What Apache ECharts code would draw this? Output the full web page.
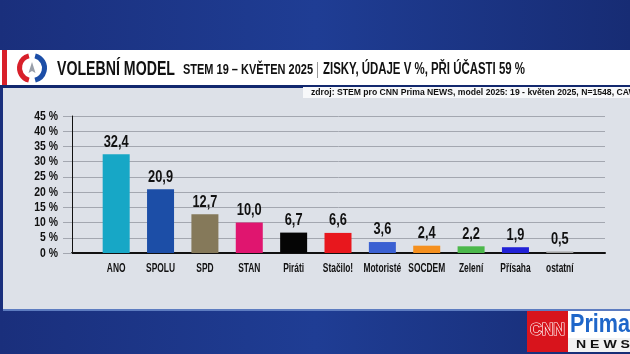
<!DOCTYPE html>
<html style="height: 100%">

<head>
  <meta charset="utf-8">
</head>

<body style="height: 100%; margin: 0; background: #1b3585">
  <div id="container" style="width: 630px; height: 354px"></div>
  <script src="https://cdn.jsdelivr.net/npm/echarts@6/dist/echarts.min.js"></script>
  <script type="text/javascript">
    // data
    var parties = ['ANO', 'SPOLU', 'SPD', 'STAN', 'Piráti', 'Stačilo!', 'Motoristé', 'SOCDEM', 'Zelení', 'Přísaha', 'ostatní'];
    var values = [32.4, 20.9, 12.7, 10.0, 6.7, 6.6, 3.6, 2.4, 2.2, 1.9, 0.5];
    var barColors = ['#17a7c6', '#1c4ea7', '#85795a', '#e0156f', '#050505', '#e8171d', '#3a60d2', '#f5901f', '#4cb84b', '#2121d6', '#a0a0a0'];
    var yTicks = [0, 5, 10, 15, 20, 25, 30, 35, 40, 45];

    var fam = '"Liberation Sans", Arial, sans-serif';

    // measure helper, the TV font is a condensed one so texts get squeezed
    var mctx = document.createElement('canvas').getContext('2d');
    function textW(t, f) { mctx.font = f; return mctx.measureText(t).width; }
    function fitText(t, f, x, y, w, fill, part) {
      var sx = w / textW(part || t, f);
      return { type: 'text', x: x, y: y, scaleX: sx, z: 3, style: { text: t, font: f, fill: fill || '#111', verticalAlign: 'middle' } };
    }
    function fmt(v) { return v.toFixed(1).replace('.', ','); }

    var dom = document.getElementById("container");
    var myChart = echarts.init(dom);

    var cnnText = fitText('CNN', 'bold 16px ' + fam, 530, 331, 35, '#d8141c');
    cnnText.style.stroke = '#ffffff';
    cnnText.style.lineWidth = 1.2;

    var deco = [
      // title strip
      { type: 'rect', shape: { x: 0, y: 50, width: 630, height: 35 }, style: { fill: '#ffffff' }, z: 0 },
      { type: 'rect', shape: { x: 2, y: 50, width: 5, height: 35 }, style: { fill: '#d8202a' }, z: 1 },
      // logo
      { type: 'arc', shape: { cx: 32, cy: 68, r: 12.5, startAngle: Math.PI * 0.58, endAngle: Math.PI * 1.42 }, style: { stroke: '#d8202a', lineWidth: 5, fill: null }, z: 2 },
      { type: 'arc', shape: { cx: 32, cy: 68, r: 12.5, startAngle: -Math.PI * 0.42, endAngle: Math.PI * 0.42 }, style: { stroke: '#1c4ea7', lineWidth: 5, fill: null }, z: 2 },
      { type: 'polygon', shape: { points: [[32, 62], [28.5, 73], [32, 71], [35.5, 73]] }, style: { fill: '#9aa0aa' }, z: 2 },
      // title texts
      fitText('VOLEBNÍ MODEL', 'bold 20px ' + fam, 57, 69, 118),
      fitText('STEM 19 – KVĚTEN 2025', 'bold 15px ' + fam, 183, 70, 130),
      { type: 'rect', shape: { x: 317, y: 62, width: 1, height: 16 }, style: { fill: '#9a9a9a' }, z: 2 },
      fitText('ZISKY, ÚDAJE V %, PŘI ÚČASTI 59 %', 'bold 16px ' + fam, 323, 70, 202),
      // panel
      { type: 'rect', shape: { x: 0, y: 85, width: 630, height: 3 }, style: { fill: '#12286e' }, z: 0 },
      { type: 'rect', shape: { x: 3, y: 88, width: 627, height: 221 }, style: { fill: '#dde1e8' }, z: 0 },
      { type: 'rect', shape: { x: 303, y: 87, width: 327, height: 11 }, style: { fill: '#f7f8fa' }, z: 1 },
      fitText('zdroj: STEM pro CNN Prima NEWS, model 2025: 19 - květen 2025, N=1548, CAWI', 'bold 9px ' + fam, 311, 92.5, 328),
      { type: 'rect', shape: { x: 3, y: 309, width: 627, height: 2 }, style: { fill: '#5d7cc0' }, z: 0 },
      // broadcaster logo
      { type: 'rect', shape: { x: 527, y: 311, width: 41, height: 41 }, style: { fill: '#d8141c' }, z: 1 },
      cnnText,
      { type: 'rect', shape: { x: 568, y: 311, width: 62, height: 27 }, style: { fill: '#ffffff' }, z: 1 },
      fitText('Prima', 'bold 26px ' + fam, 570, 325, 60, '#1f66c9'),
      { type: 'rect', shape: { x: 568, y: 338, width: 62, height: 14 }, style: { fill: '#f2f2f2' }, z: 1 },
      fitText('N E W S', 'bold 11px ' + fam, 576, 345, 54, '#111')
    ];

    var option = {
      backgroundColor: {
        type: 'linear', x: 0, y: 0, x2: 1, y2: 0,
        colorStops: [
          { offset: 0, color: '#1a2f7c' },
          { offset: 0.5, color: '#1f3d94' },
          { offset: 1, color: '#172c74' }
        ]
      },
      graphic: deco,
      grid: [
        { left: 72, right: 25, top: 116, bottom: 101 },
        { left: 94, right: 48, top: 116, bottom: 101 }
      ],
      xAxis: [
        {
          gridIndex: 0, type: 'value', min: 0, max: 1,
          axisLine: { show: true, lineStyle: { color: '#111', width: 2 } },
          axisTick: { show: false }, axisLabel: { show: false }, splitLine: { show: false }
        },
        {
          gridIndex: 1, type: 'category', data: parties,
          axisLine: { show: false }, axisTick: { show: false }, axisLabel: { show: false }
        }
      ],
      yAxis: [
        {
          gridIndex: 0, type: 'value', min: 0, max: 45, interval: 5,
          axisLine: { show: true, lineStyle: { color: '#111', width: 1 } },
          axisTick: { show: true, length: 9, lineStyle: { color: '#a3a7b0' } },
          axisLabel: { show: false },
          splitLine: { show: true, lineStyle: { color: '#a3a7b0', width: 1 } }
        },
        {
          gridIndex: 1, type: 'value', min: 0, max: 45, show: false
        }
      ],
      series: [
        {
          type: 'custom', xAxisIndex: 1, yAxisIndex: 1,
          data: values.map(function (v, i) { return [i, v]; }),
          encode: { x: 0, y: 1 },
          renderItem: function (params, api) {
            var idx = api.value(0);
            var v = api.value(1);
            var base = api.coord([idx, 0]);
            var top = api.coord([idx, v]);
            return {
              type: 'group',
              children: [
                {
                  type: 'rect',
                  shape: { x: base[0] - 13.5, y: top[1], width: 27, height: base[1] - top[1] },
                  style: { fill: barColors[idx] }
                },
                {
                  type: 'text', x: base[0], y: top[1] - 4, scaleX: 0.8,
                  style: { text: fmt(v), font: 'bold 16px ' + fam, fill: '#111', align: 'center', verticalAlign: 'bottom' }
                },
                {
                  type: 'text', x: base[0], y: base[1] + 16, scaleX: 0.7,
                  style: { text: parties[idx], font: 'bold 12px ' + fam, fill: '#111', align: 'center', verticalAlign: 'middle' }
                }
              ]
            };
          },
          z: 1
        }
      ]
    };

    if (option && typeof option === "object") {
      myChart.setOption(option, true);
    }

    // y tick labels, placed with the axis scale
    var yLabels = yTicks.map(function (t) {
      var py = myChart.convertToPixel({ yAxisIndex: 0 }, t);
      return {
        type: 'text', x: 58, y: py, scaleX: 0.8, z: 3,
        style: { text: t + ' %', font: 'bold 13px ' + fam, fill: '#111', align: 'right', verticalAlign: 'middle' }
      };
    });
    myChart.setOption({ graphic: deco.concat(yLabels) });
  </script>
</body>

</html>
